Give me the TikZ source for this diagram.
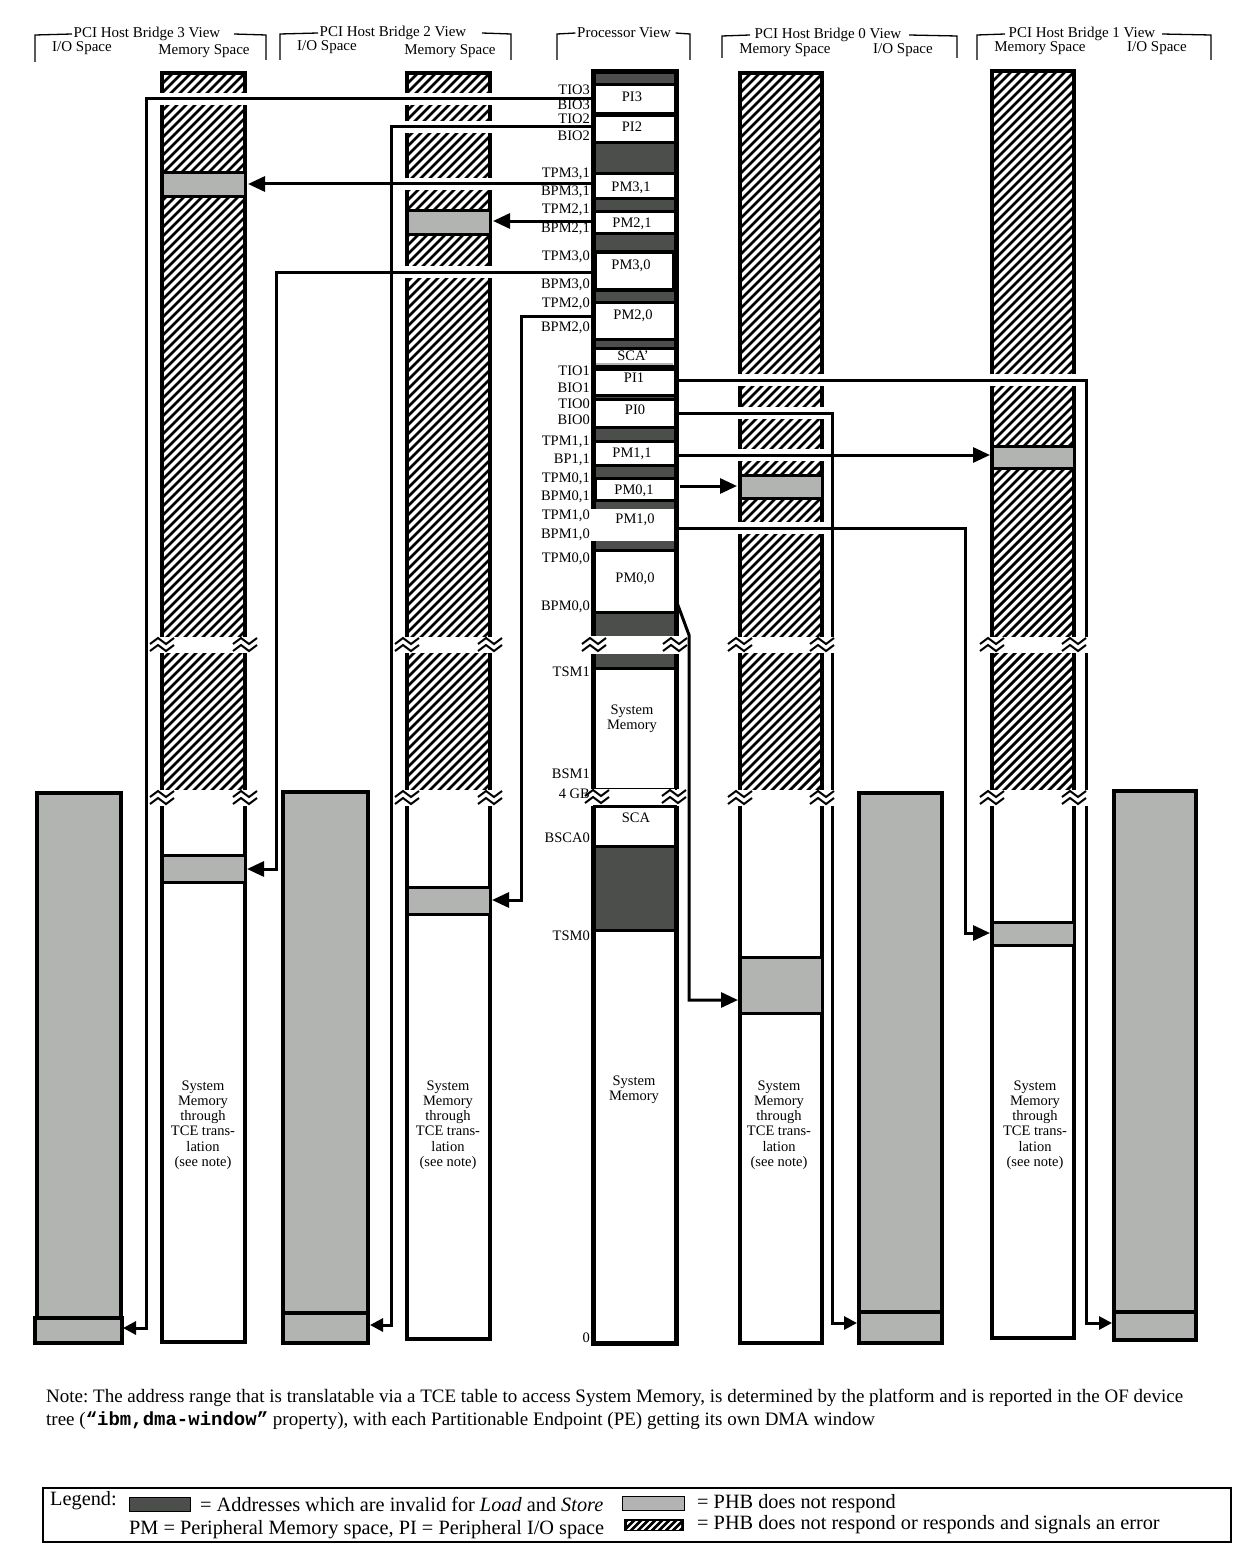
\documentclass[tikz,border=0pt]{standalone}
\usepackage{fontspec}
\setmainfont{Liberation Serif}
\newfontfamily\monof{Liberation Mono}
\usetikzlibrary{arrows.meta}
\frenchspacing
\definecolor{dk}{HTML}{4C4E4B}
\definecolor{lg}{HTML}{B2B4B1}
\newcommand\lblfont{\fontsize{14.5pt}{15.2pt}\selectfont}
\newcommand\hdfont{\fontsize{15pt}{16pt}\selectfont}
\newcommand\notefont{\fontsize{19pt}{22pt}\selectfont}
\newcommand\legfont{\fontsize{20.3pt}{23pt}\selectfont}
\newcommand\stripes[5]{% x1 x2 ytop ybot period
  \begin{scope}
  \clip (#1,#3) rectangle (#2,#4);
  \foreach \k in {0,#5,...,830}
    \draw[stripe] ({#1-(#4-#3)+\k},{#4+2}) -- ++({#4-#3+4},{-(#4-#3+4)});
  \end{scope}}
\newcommand\hatchcol[4]{%
  \fill[white] (#1,#3) rectangle (#2,#4);
  \stripes{#1}{#2}{#3}{790}{9}
  \draw[brd] (#1,790) -- (#1,#3) -- (#2,#3) -- (#2,790);
  \draw[brd] (#1,806) -- (#1,#4) -- (#2,#4) -- (#2,806);}
\newcommand\hgap[3]{\fill[white] ({#1-3},{#3-6}) rectangle ({#2+3},{#3+6});}
\newcommand\zigz[2]{%
  \draw[zzline] ({#1-12},{#2-1}) -- ({#1-4},{#2-7}) -- ({#1+4},{#2-1}) -- ({#1+12},{#2-7});
  \draw[zzline] ({#1-12},{#2+6}) -- ({#1-4},{#2}) -- ({#1+4},{#2+6}) -- ({#1+12},{#2});}
\newcommand\brkband[4]{%
  \fill[white] ({#1-#4},{#3-8}) rectangle ({#2+#4},{#3+8});
  \zigz{#1}{#3}\zigz{#2}{#3}}
\tikzset{
  lbl/.style={font=\lblfont, inner sep=0pt, align=center},
  hdr/.style={font=\hdfont, inner sep=1.5pt},
  conn/.style={line width=3pt},
  tipL/.style={-{Triangle[length=17pt,width=15pt]}},
  tipS/.style={-{Triangle[length=13pt,width=13pt]}},
  brd/.style={line width=4pt},
  stripe/.style={line width=2.8pt},
  band/.style={fill=lg, draw=black, line width=3pt},
  iobar/.style={fill=lg, draw=black, line width=4pt},
  pbox/.style={fill=white, draw=black, line width=3pt},
  zzline/.style={line width=2pt, line join=miter},
  bracket/.style={line width=1.3pt},
}
\begin{document}
\begin{tikzpicture}[x=1pt,y=-1pt]
\useasboundingbox (0,0) rectangle (1252,1565);
\fill[white] (0,0) rectangle (1252,1565);

% ---------- headers ----------
\node[hdr] (h3) at (147,34) {PCI Host Bridge 3 View};
\draw[bracket] (35,62) -- (35,35) -- (h3.west);
\draw[bracket] ([xshift=12pt]h3.east) -- (266,35) -- (266,60);
\node[hdr] (h3io) at (82,48) {I/O Space};
\node[hdr] (h3mem) at (204,51) {Memory Space};

\node[hdr] (h2) at (393,33) {PCI Host Bridge 2 View};
\draw[bracket] (280,60) -- (280,34) -- (h2.west);
\draw[bracket] ([xshift=14pt]h2.east) -- (511,34) -- (511,60);
\node[hdr] (h2io) at (327,47) {I/O Space};
\node[hdr] (h2mem) at (450,51) {Memory Space};

\node[hdr] (hp) at (624,33) {Processor View};
\draw[bracket] (557,60) -- (557,34) -- (hp.west);
\draw[bracket] ([xshift=3pt]hp.east) -- (690,34) -- (690,60);

\node[hdr] (h0) at (828,35) {PCI Host Bridge 0 View};
\draw[bracket] (722,58) -- (722,36) -- ([xshift=-3pt]h0.west);
\draw[bracket] ([xshift=6pt]h0.east) -- (957,36) -- (957,58);
\node[hdr] (h0mem) at (785,50) {Memory Space};
\node[hdr] (h0io) at (903,50) {I/O Space};

\node[hdr] (h1) at (1082,34) {PCI Host Bridge 1 View};
\draw[bracket] (977,60) -- (977,35) -- ([xshift=-2pt]h1.west);
\draw[bracket] ([xshift=5pt]h1.east) -- (1211,35) -- (1211,60);
\node[hdr] (h1mem) at (1040,48) {Memory Space};
\node[hdr] (h1io) at (1157,48) {I/O Space};

% ---------- I/O space bars ----------
\draw[iobar] (37,793) rectangle (121,1318);
\draw[iobar] (35,1318) rectangle (122,1343);
\draw[iobar] (283,792) rectangle (368,1313);
\draw[iobar] (283,1313) rectangle (368,1343);
\draw[iobar] (859,793) rectangle (942,1312);
\draw[iobar] (859,1312) rectangle (942,1343);
\draw[iobar] (1114,791) rectangle (1196,1312);
\draw[iobar] (1114,1312) rectangle (1196,1340);

% ---------- memory space columns ----------
\hatchcol{162}{245}{73}{1342}
\hatchcol{407}{490}{73}{1339}
\hatchcol{740}{822}{73}{1343}
\hatchcol{992}{1074}{71}{1338}

\draw[band] (162,173) rectangle (245,197);
\draw[band] (407,210) rectangle (490,234);
\draw[band] (740,475) rectangle (822,498);
\draw[band] (992,446) rectangle (1074,468);

\draw[band] (162,855) rectangle (245,882);
\draw[band] (407,887) rectangle (490,914);
\draw[band] (740,957) rectangle (822,1013);
\draw[band] (992,922) rectangle (1074,945);

\node[lbl] (t3) at (203,1125) {System\\Memory\\through\\TCE trans-\\lation\\(see note)};
\node[lbl] (t2) at (448,1125) {System\\Memory\\through\\TCE trans-\\lation\\(see note)};
\node[lbl] (t0) at (779,1125) {System\\Memory\\through\\TCE trans-\\lation\\(see note)};
\node[lbl] (t1) at (1035,1125) {System\\Memory\\through\\TCE trans-\\lation\\(see note)};

% gaps where connectors pass over hatched columns
\hgap{162}{245}{99}
\hgap{407}{490}{99}
\hgap{407}{490}{127}
\hgap{407}{490}{184}
\hgap{407}{490}{272}
\hgap{740}{822}{380}
\hgap{740}{822}{413}
\hgap{740}{822}{455}
\hgap{740}{822}{528}
\hgap{992}{1074}{380}

% ---------- connector coordinates ----------
\coordinate (s1) at (593,99);   \coordinate (k1) at (146,1328); \coordinate (e1) at (123,1328);
\coordinate (s2) at (593,127);  \coordinate (k2) at (391,1325); \coordinate (e2) at (370,1325);
\coordinate (s3) at (593,184);  \coordinate (e3) at (248,184);
\coordinate (s4) at (593,221);  \coordinate (e4) at (493,221);
\coordinate (s5) at (593,272);  \coordinate (k5) at (276,869);  \coordinate (e5) at (247,869);
\coordinate (s6) at (593,316);  \coordinate (k6) at (521,900);  \coordinate (e6) at (492,900);
\coordinate (s7) at (676,380);  \coordinate (k7) at (1086,1323); \coordinate (e7) at (1112,1323);
\coordinate (s8) at (676,413);  \coordinate (k8) at (832,1323); \coordinate (e8) at (857,1323);
\coordinate (s9) at (676,455);  \coordinate (e9) at (990,455);
\coordinate (s10) at (680,486); \coordinate (e10) at (737,486);
\coordinate (s11) at (672,528); \coordinate (k11) at (965,933); \coordinate (e11) at (990,933);
\coordinate (s12) at (676,600); \coordinate (d12) at (689,635); \coordinate (k12) at (689,1000); \coordinate (e12) at (738,1000);

\draw[conn,tipS] (s1) -| (k1) -- (e1);
\draw[conn,tipS] (s2) -| (k2) -- (e2);
\draw[conn,tipL] (s3) -- (e3);
\draw[conn,tipL] (s4) -- (e4);
\draw[conn,tipL] (s5) -| (k5) -- (e5);
\draw[conn,tipL] (s6) -| (k6) -- (e6);
\draw[conn,tipS] (s7) -| (k7) -- (e7);
\draw[conn,tipS] (s8) -| (k8) -- (e8);
\draw[conn,tipL] (s9) -- (e9);
\draw[conn,tipL] (s10) -- (e10);
\draw[conn,tipL] (s11) -| (k11) -- (e11);
\draw[conn,tipL] (s12) -- (d12) -- (k12) -- (e12);

% ---------- processor column ----------
\fill[dk] (593,72) rectangle (676,636);
\fill[dk] (593,654) rectangle (676,668);
\fill[dk] (593,846) rectangle (676,930);
\draw[pbox] (594,85) rectangle (675,114);
\draw[pbox] (594,116) rectangle (675,143);
\draw[pbox] (594,174) rectangle (675,199);
\draw[pbox] (594,211) rectangle (675,233);
\draw[pbox,line width=4pt] (595,252) rectangle (674,290);
\draw[pbox] (594,302) rectangle (675,339);
\draw[pbox] (594,348) rectangle (675,366);
\draw[lg,line width=1.5pt] (596,364) -- (673,364);
\draw[pbox] (594,369) rectangle (675,395);
\draw[pbox] (594,399) rectangle (675,427);
\draw[pbox] (594,441) rectangle (675,465);
\draw[pbox] (595,478) rectangle (677,500);
\fill[white] (593,509) rectangle (674,541);
\draw[pbox] (594,550) rectangle (675,612);
\draw[pbox] (594,668) rectangle (675,789);
\fill[white] (594,789) rectangle (675,806);
\draw[pbox] (594,806) rectangle (675,846);
\draw[pbox] (594,930) rectangle (675,1343);
\draw[line width=5pt] (593,509) -- (593,72) -- (676,72) -- (676,636);
\draw[line width=5pt] (593,541) -- (593,636);
\draw[line width=5pt] (593,654) -- (593,789);
\draw[line width=5pt] (676,654) -- (676,789);
\draw[line width=5pt] (593,806) -- (593,1343) -- (676,1343) -- (676,806);

% ---------- breaks ----------
\brkband{162}{245}{645}{14}
\brkband{407}{490}{645}{14}
\brkband{740}{822}{645}{14}
\brkband{992}{1074}{645}{14}
\brkband{162}{245}{798}{14}
\brkband{407}{490}{798}{14}
\brkband{740}{822}{798}{14}
\brkband{992}{1074}{798}{14}
\brkband{594}{675}{645}{9}
\fill[white] (580,790) rectangle (686,805);
\zigz{597}{797}\zigz{674}{797}

% ---------- processor box texts ----------
\node[lbl] (pi3) at (632,97) {PI3};
\node[lbl] (pi2) at (632,127) {PI2};
\node[lbl] (pm31) at (631,188) {PM3,1};
\node[lbl] (pm21) at (632,224) {PM2,1};
\node[lbl] (pm30) at (631,266) {PM3,0};
\node[lbl] (pm20) at (633,316) {PM2,0};
\node[lbl] (scap) at (633,356) {SCA'};
\node[lbl] (pi1) at (634,378) {PI1};
\node[lbl] (pi0) at (635,410) {PI0};
\node[lbl] (pm11) at (632,454) {PM1,1};
\node[lbl] (pm01) at (634,491) {PM0,1};
\node[lbl] (pm10) at (635,520) {PM1,0};
\node[lbl] (pm00) at (635,579) {PM0,0};
\node[lbl] (sm1) at (632,719) {System\\Memory};
\node[lbl] (sca) at (636,818) {SCA};
\node[lbl] (sm0) at (634,1090) {System\\Memory};

% ---------- address labels ----------
\foreach \t/\yy/\nm in {TIO3/90/a1, BIO3/105/a2, TIO2/119/a3, BIO2/136/a4,
  TPM3{,}1/174/a5, BPM3{,}1/192/a6, TPM2{,}1/210/a7, BPM2{,}1/229/a8,
  TPM3{,}0/257/a9, BPM3{,}0/285/a10, TPM2{,}0/304/a11, BPM2{,}0/328/a12,
  TIO1/371/a13, BIO1/388/a14, TIO0/404/a15, BIO0/420/a16,
  TPM1{,}1/442/a17, BP1{,}1/460/a18, TPM0{,}1/479/a19, BPM0{,}1/497/a20,
  TPM1{,}0/516/a21, BPM1{,}0/535/a22, TPM0{,}0/559/a23, BPM0{,}0/607/a24,
  TSM1/672/a25, BSM1/774/a26, 4 GB/794/a27, BSCA0/838/a28, TSM0/936/a29, 0/1338/a30}
  {\node[lbl,anchor=east] (\nm) at (590,\yy) {\t};}

% ---------- note ----------
\node[font=\notefont, anchor=west, inner sep=0pt] (note1) at (46,1398)
  {Note: The address range that is translatable via a TCE table to access System Memory, is determined by the platform and is reported in the OF device};
\node[font=\notefont, anchor=west, inner sep=0pt] (note2) at (46,1421)
  {tree ({\monof\bfseries “ibm,dma-window”} property), with each Partitionable Endpoint (PE) getting its own DMA window};

% ---------- legend ----------
\draw[line width=1.2pt] (43,1488) rectangle (1231,1542);
\node[font=\legfont, anchor=west, inner sep=0pt] (leg) at (50,1501) {Legend:};
\draw[fill=dk, line width=0.8pt] (129,1497) rectangle (190,1511);
\node[font=\legfont, anchor=west, inner sep=0pt] (l1) at (200,1504) {= Addresses which are invalid for \textit{Load} and \textit{Store}};
\draw[fill=lg, line width=0.8pt] (622,1496) rectangle (684,1510);
\node[font=\legfont, anchor=west, inner sep=0pt] (l2) at (697,1504) {= PHB does not respond};
\node[font=\legfont, anchor=west, inner sep=0pt] (l3) at (129,1530) {PM = Peripheral Memory space, PI = Peripheral I/O space};
\fill[black] (624,1519) rectangle (684,1531);
\begin{scope}
\clip (627,1521) rectangle (681,1529);
\foreach \k in {620,627,...,690} \draw[white,line width=2pt] (\k,1531) -- ++(12,-12);
\end{scope}
\node[font=\legfont, anchor=west, inner sep=0pt] (l4) at (697,1525) {= PHB does not respond or responds and signals an error};
\end{tikzpicture}
\end{document}
